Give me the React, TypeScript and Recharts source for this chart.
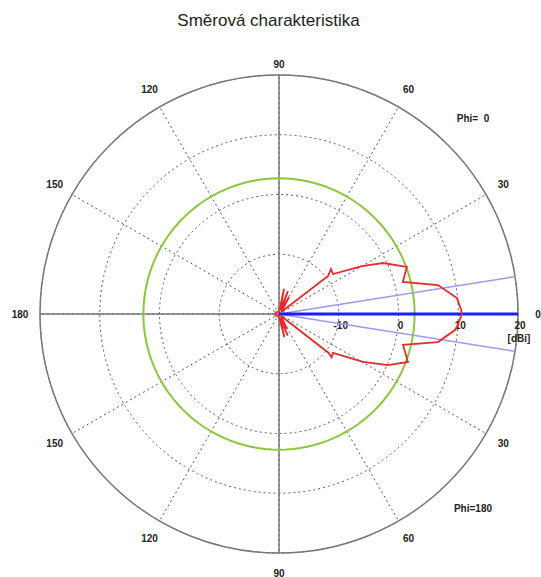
import React from 'react';
import { RadarChart, Radar, PolarGrid, PolarAngleAxis, PolarRadiusAxis } from 'recharts';

const TITLE = 'Směrová charakteristika';
const PHI_TOP = 'Phi=  0';
const PHI_BOTTOM = 'Phi=180';

const angleTicks = [0, 30, 60, 90, 120, 150, 180, 210, 240, 270, 300, 330];
const gainTicks = [-10, 0, 10, 20];
const gainMin = -20;
const gainMax = 20;
const gainUnit = '[dBi]';

// Radiation pattern (angle in degrees CCW from 0, gain in dBi), in drawing order
const patternAngles = [
  0, 1.3, 5.1, 10.3, 14.5, 20.2, 26.1, 30, 36.5, 40.9, 37.8,
  44, 52, 59.5, 63, 68.6, 73, 78.7, 84, 95, 120, 150, 180, 210, 240, 265,
  276, 283, 287, 292, 295.5, 299, 303, 315,
  321.9, 320.6, 324.2, 330.3, 334.9, 339.6, 346, 350, 354.8, 356.5,
];
const patternGains = [
  10.6, 10.5, 9.9, 7.05, 1.4, 2.8, -0.6, -3.95, -8.75, -8.5, -9.6,
  -19.5, -19.0, -16.7, -19.3, -15.9, -19.3, -15.7, -19.3, -19.5, -19.6, -19.4, -19.3, -19.4, -19.6, -19.5,
  -19.3, -16.0, -19.3, -16.1, -19.3, -17.2, -19.3, -19.5,
  -9.5, -8.6, -8.85, -3.8, 0.14, 3.03, 1.39, 7.02, 9.58, 10.0,
];

// Reference gain level (green circle), drawn at these angles
const referenceGain = 2.7;
const referenceSampleAngles = Array.from({ length: 120 }, (_, i) => i * 3);

// Main beam direction and half-power beam limits
const mainBeamAngles = [0];
const halfPowerAngles = [9, 351];

// Solid cardinal axes
const cardinalAngles = [0, 90, 180, 270];

type Row = { angle: number; value: number };

const spokeRows = (angles: number[]): Row[] =>
  angles.flatMap((a) => [
    { angle: a, value: gainMin },
    { angle: a, value: gainMax },
  ]);

const axesData = spokeRows(cardinalAngles);
const referenceData: Row[] = referenceSampleAngles.map((a) => ({ angle: a, value: referenceGain }));
const halfPowerData = spokeRows(halfPowerAngles);
const mainBeamData = spokeRows(mainBeamAngles);
const patternData: Row[] = patternAngles.map((a, i) => ({ angle: a, value: patternGains[i] }));

const labelFont = "'Liberation Sans', Arial, sans-serif";

const AngleTick = (props: any) => {
  const { x, y, payload } = props;
  const v = Number(payload.value);
  const label = v <= 180 ? v : 360 - v;
  const dy = v === 90 ? 9 : 0;
  return (
    <text
      x={x}
      y={y + dy}
      textAnchor="middle"
      dominantBaseline="central"
      fontSize={10}
      fontWeight="bold"
      fontFamily={labelFont}
      fill="#222"
    >
      {label}
    </text>
  );
};

const GainTick = (props: any) => {
  const { x, y, payload } = props;
  const v = Number(payload.value);
  return (
    <g>
      <text
        x={x + 2}
        y={y + 11}
        textAnchor="middle"
        dominantBaseline="central"
        fontSize={10}
        fontWeight="bold"
        fontFamily={labelFont}
        fill="#222"
      >
        {v}
      </text>
      {v === gainMax && (
        <text
          x={x + 1}
          y={y + 24}
          textAnchor="middle"
          dominantBaseline="central"
          fontSize={10}
          fontWeight="bold"
          fontFamily={labelFont}
          fill="#222"
        >
          {gainUnit}
        </text>
      )}
    </g>
  );
};

const noteStyle: React.CSSProperties = {
  position: 'absolute',
  fontFamily: labelFont,
  fontSize: 10,
  fontWeight: 'bold',
  color: '#222',
  whiteSpace: 'pre',
  transform: 'translate(-50%, -50%)',
  lineHeight: '12px',
};

const chartGeometry = {
  width: 541,
  height: 577,
  cx: 279,
  cy: 314,
  innerRadius: 0,
  outerRadius: 239,
  startAngle: 0,
  endAngle: 360,
  margin: { top: 0, right: 0, bottom: 0, left: 0 },
};

const layerStyle: React.CSSProperties = { position: 'absolute', left: 0, top: 0 };

const HiddenAxes = () => null;

function Layer({ data, stroke, strokeWidth }: { data: Row[]; stroke: string; strokeWidth: number }) {
  return (
    <div style={layerStyle}>
      <RadarChart {...chartGeometry} data={data}>
        <PolarAngleAxis dataKey="angle" type="number" domain={[0, 360]} ticks={angleTicks} tick={false} tickLine={false} axisLine={false} />
        <PolarRadiusAxis type="number" domain={[gainMin, gainMax]} ticks={gainTicks} tick={false} tickLine={false} axisLine={false} />
        <Radar
          dataKey="value"
          stroke={stroke}
          strokeWidth={strokeWidth}
          fill="none"
          dot={false}
          activeDot={false}
          isAnimationActive={false}
        />
      </RadarChart>
    </div>
  );
}

export default function App() {
  return (
    <div style={{ position: 'absolute', left: 0, top: 0, width: 541, height: 577, background: '#fff', overflow: 'hidden' }}>
      <div
        style={{
          position: 'absolute',
          left: 0,
          top: 11,
          width: 537,
          textAlign: 'center',
          fontFamily: labelFont,
          fontSize: 17,
          lineHeight: '20px',
          color: '#222',
        }}
      >
        {TITLE}
      </div>
      <div style={layerStyle}>
        <RadarChart {...chartGeometry} data={axesData}>
          <PolarGrid gridType="circle" stroke="#555" strokeDasharray="2 3" strokeWidth={1} />
          <PolarAngleAxis
            dataKey="angle"
            type="number"
            domain={[0, 360]}
            ticks={angleTicks}
            tickCount={13}
            tick={<AngleTick />}
            tickLine={false}
            tickSize={20}
            axisLineType="circle"
            axisLine={{ stroke: '#777', strokeWidth: 1.5 }}
          />
          <PolarRadiusAxis
            angle={0}
            type="number"
            domain={[gainMin, gainMax]}
            ticks={gainTicks}
            tick={<GainTick />}
            axisLine={false}
            tickLine={false}
          />
          <Radar dataKey="value" stroke="#777" strokeWidth={1.5} fill="none" dot={false} activeDot={false} isAnimationActive={false} />
        </RadarChart>
      </div>
      <Layer data={referenceData} stroke="#8cc63f" strokeWidth={2} />
      <Layer data={halfPowerData} stroke="#9a9af2" strokeWidth={1.5} />
      <Layer data={mainBeamData} stroke="#1c1cf5" strokeWidth={3} />
      <Layer data={patternData} stroke="#e52b2b" strokeWidth={1.8} />
      <div style={{ ...noteStyle, left: 473, top: 119 }}>{PHI_TOP}</div>
      <div style={{ ...noteStyle, left: 473, top: 509 }}>{PHI_BOTTOM}</div>
    </div>
  );
}
